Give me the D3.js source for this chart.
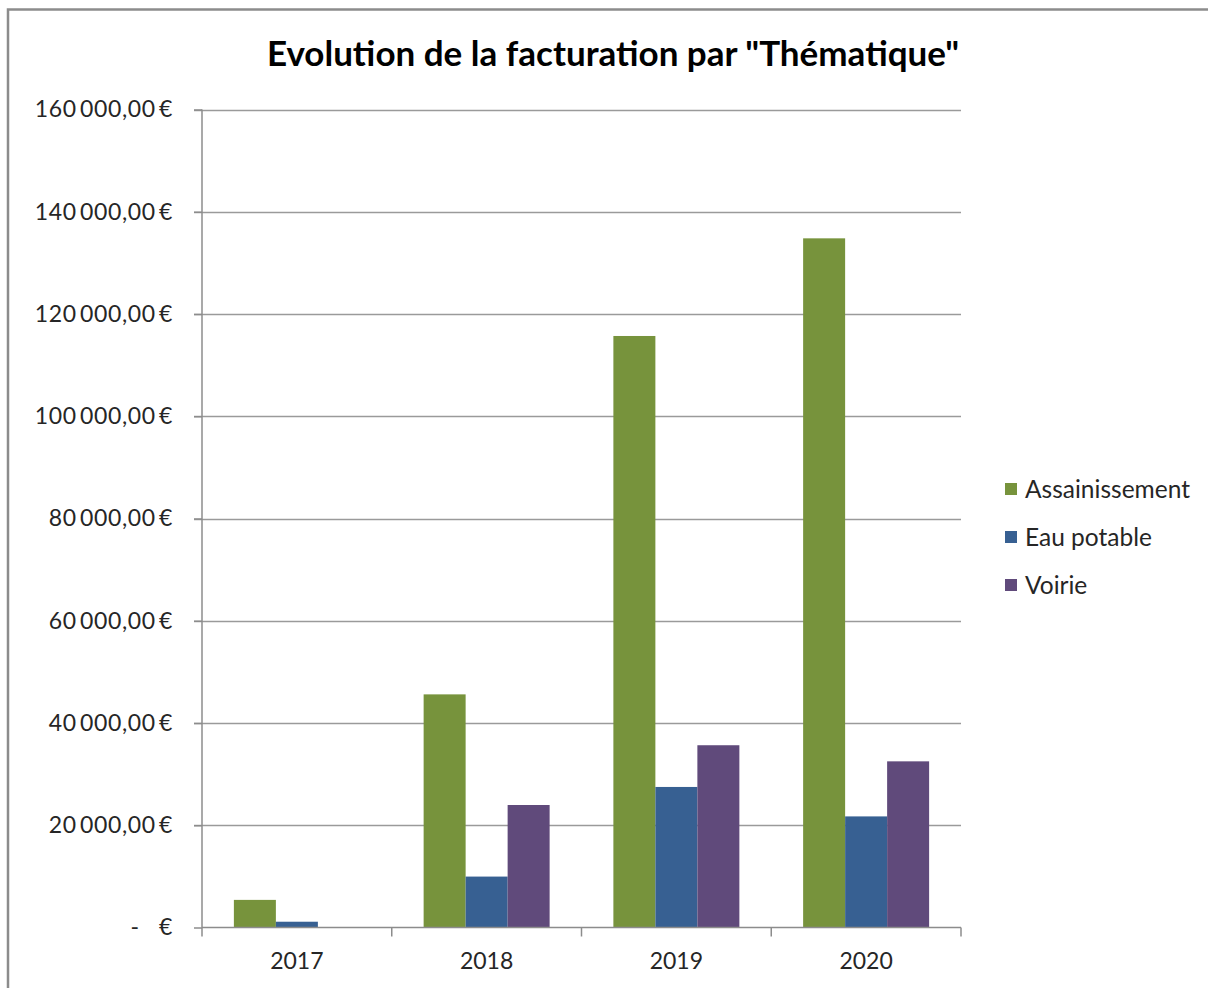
<!DOCTYPE html>
<html><head><meta charset="utf-8">
<script src="https://cdn.jsdelivr.net/npm/d3@7"></script>
<style>html,body{margin:0;padding:0;background:#fff;}svg{display:block;}</style>
</head><body>
<script>
const years = ["2017","2018","2019","2020"];
const seriesNames = ["Assainissement","Eau potable","Voirie"];
const assainissement = [5400, 45600, 115700, 134800];
const eauPotable = [1130, 9960, 27490, 21730];
const voirie = [0, 23960, 35650, 32500];
const colors = ["#77933C","#376092","#604A7B"];
const yTicks = [0,20000,40000,60000,80000,100000,120000,140000,160000];
const title = 'Evolution de la facturation par "Thématique"';

const seriesValues = [assainissement, eauPotable, voirie];
const W = 1208, H = 988;
const m = {left:202, right:961, top:109.5, bottom:927.5};
const font = "Lato, 'Open Sans', sans-serif";

const svg = d3.select("body").append("svg").attr("width",W).attr("height",H);
svg.append("rect").attr("width",W).attr("height",H).attr("fill","#fff");
// chart area border
svg.append("path").attr("d",`M8,${H+5}V9.5H${W+5}`).attr("fill","none").attr("stroke","#8c8c8c").attr("stroke-width",2.5);

const x0 = d3.scaleBand().domain(years).range([m.left,m.right]).paddingInner(0).paddingOuter(0);
const inner = 0.664;
const x1 = d3.scaleBand().domain(seriesNames).range([0, x0.bandwidth()*inner]);
const y = d3.scaleLinear().domain([0,160000]).range([m.bottom,m.top]);

// gridlines
svg.append("g").selectAll("line").data(yTicks.filter(d=>d>0)).join("line")
  .attr("x1",m.left-8).attr("x2",m.right).attr("y1",d=>Math.round(y(d))+0.5).attr("y2",d=>Math.round(y(d))+0.5)
  .attr("stroke","#9a9a9a").attr("stroke-width",1.5);

// bars
const offset = x0.bandwidth()*(1-inner)/2;
seriesNames.forEach((s,si)=>{
  svg.append("g").selectAll("rect").data(years).join("rect")
    .attr("x",(d)=>x0(d)+offset+x1(s))
    .attr("width",x1.bandwidth())
    .attr("y",(d,i)=>y(seriesValues[si][i]))
    .attr("height",(d,i)=>y(0)-y(seriesValues[si][i]))
    .attr("fill",colors[si]);
});

// y axis
const yAxis = d3.axisLeft(y).tickValues(yTicks).tickSize(8)
  .tickFormat(d=> d===0 ? "-\u00a0\u00a0\u00a0€" : d3.format(",.2f")(d).replace(/,/g,"\u2009").replace(".",",")+"\u2009€");
const gy = svg.append("g").attr("transform",`translate(${m.left},0)`).call(yAxis);
gy.select(".domain").attr("stroke","#8c8c8c").attr("stroke-width",1.5).attr("d",`M0,${m.top}V${m.bottom}`);
gy.selectAll(".tick line").attr("stroke","#8c8c8c").attr("stroke-width",1.5);
gy.selectAll(".tick text").attr("x",-29).attr("font-family",font).attr("font-size",23).attr("letter-spacing",0.6).attr("fill","#262626").style("white-space","pre");

// x axis
const xAxis = d3.axisBottom(x0).tickSize(0).tickPadding(25);
const gx = svg.append("g").attr("transform",`translate(0,${m.bottom})`).call(xAxis);
gx.select(".domain").attr("stroke","#8c8c8c").attr("stroke-width",1.5).attr("d",`M${m.left},0H${m.right}`);
gx.selectAll(".tick text").attr("font-family",font).attr("font-size",23).attr("fill","#262626");
svg.append("g").selectAll("line").data(years.concat(["end"])).join("line")
  .attr("x1",d=>d==="end"?m.right:x0(d)).attr("x2",d=>d==="end"?m.right:x0(d))
  .attr("y1",m.bottom).attr("y2",m.bottom+9).attr("stroke","#8c8c8c").attr("stroke-width",1.5);

// title
svg.append("text").attr("x",613).attr("y",66).attr("text-anchor","middle")
  .attr("font-family",font).attr("font-weight","bold").attr("font-size",35).attr("fill","#000").text(title);

// legend
const lg = svg.append("g");
seriesNames.forEach((s,i)=>{
  const yy = 489 + i*48;
  lg.append("rect").attr("x",1005).attr("y",yy-6).attr("width",12).attr("height",12).attr("fill",colors[i]);
  lg.append("text").attr("x",1025).attr("y",yy).attr("dy","0.35em").attr("font-family",font).attr("font-size",24.5).attr("fill","#262626").text(s);
});
</script>
</body></html>
